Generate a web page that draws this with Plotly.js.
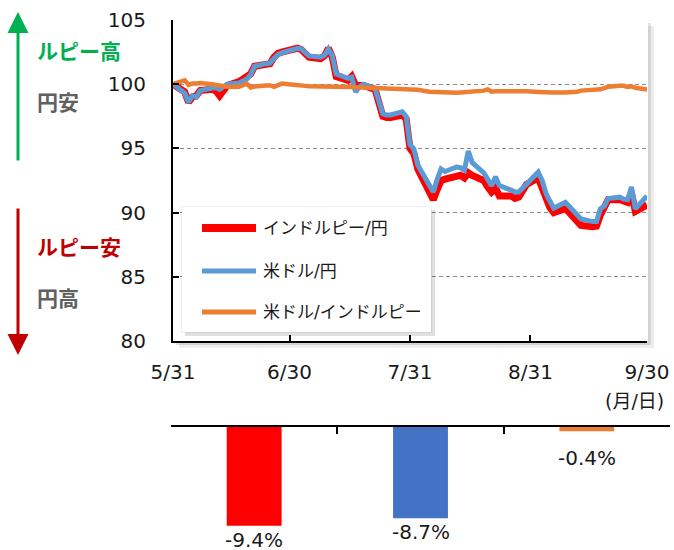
<!DOCTYPE html>
<html>
<head>
<meta charset="utf-8">
<script src="https://cdn.plot.ly/plotly-3.0.1.min.js"></script>
<style>html,body{margin:0;padding:0;background:#fff;}#chart{width:674px;height:550px;}</style>
</head>
<body>
<div id="chart"></div>
<script>
// ---- data ----
const dates = ['2024-05-31',
'2024-06-03','2024-06-04','2024-06-05','2024-06-06','2024-06-07',
'2024-06-10','2024-06-11','2024-06-12','2024-06-13','2024-06-14',
'2024-06-17','2024-06-18','2024-06-19','2024-06-20','2024-06-21',
'2024-06-24','2024-06-25','2024-06-26','2024-06-27','2024-06-28',
'2024-07-01','2024-07-02','2024-07-03','2024-07-04','2024-07-05',
'2024-07-08','2024-07-09','2024-07-10','2024-07-11','2024-07-12',
'2024-07-15','2024-07-16','2024-07-17','2024-07-18','2024-07-19',
'2024-07-22','2024-07-23','2024-07-24','2024-07-25','2024-07-26',
'2024-07-29','2024-07-30','2024-07-31','2024-08-01','2024-08-02',
'2024-08-05','2024-08-06','2024-08-07','2024-08-08','2024-08-09',
'2024-08-12','2024-08-13','2024-08-14','2024-08-15','2024-08-16',
'2024-08-19','2024-08-20','2024-08-21','2024-08-22','2024-08-23',
'2024-08-26','2024-08-27','2024-08-28','2024-08-29','2024-08-30',
'2024-09-02','2024-09-03','2024-09-04','2024-09-05','2024-09-06',
'2024-09-09','2024-09-10','2024-09-11','2024-09-12','2024-09-13',
'2024-09-16','2024-09-17','2024-09-18','2024-09-19','2024-09-20',
'2024-09-23','2024-09-24','2024-09-25','2024-09-26','2024-09-27',
'2024-09-30'];

const inrJpy = [100.0,
99.4,98.6,99.0,99.1,99.5,
99.6,99.5,99.1,99.6,99.9,
100.2,100.4,100.5,100.8,101.4,
101.5,101.6,102.1,102.4,102.5,
102.8,102.8,102.7,102.4,102.1,
102.0,102.2,102.8,102.1,100.6,
100.3,100.6,99.9,99.9,99.9,
99.6,98.7,97.5,97.4,97.4,
97.6,97.3,95.0,94.6,93.4,
91.6,91.0,91.8,92.5,92.6,
92.8,92.9,92.7,93.1,92.9,
92.5,92.0,91.6,91.9,91.3,
91.3,91.1,91.2,91.7,92.2,
92.7,91.9,91.0,90.4,90.0,
90.3,90.0,89.7,89.4,89.0,
88.9,88.95,89.8,90.4,91.0,
91.0,90.9,90.8,91.5,90.1,
90.6];

const usdJpy = [100.0,
99.3,98.6,99.1,99.0,99.5,
99.7,99.75,99.6,99.8,100.0,
100.1,100.3,100.4,100.75,101.4,
101.6,101.65,102.0,102.3,102.45,
102.75,102.8,102.75,102.5,102.2,
102.1,102.25,102.75,102.2,100.8,
100.45,100.55,99.4,99.8,100.0,
99.65,98.8,97.7,97.6,97.6,
97.85,97.5,95.3,94.95,93.7,
92.1,91.6,92.6,93.4,93.2,
93.55,93.5,93.3,94.8,93.9,
93.1,92.6,92.1,92.8,92.1,
91.75,91.6,91.6,91.9,92.3,
93.15,92.5,91.5,90.9,90.35,
90.8,90.5,90.2,89.9,89.5,
89.3,89.3,90.3,90.5,91.1,
91.2,91.05,91.0,92.0,90.3,
91.3];

const usdInr = [100.0,
100.3,99.95,100.05,100.05,100.1,
100.0,99.95,99.85,99.8,99.8,
99.8,99.95,100.05,99.75,99.82,
99.9,99.9,99.8,99.95,100.05,
99.95,99.9,99.87,99.87,99.85,
99.85,99.84,99.82,99.8,99.8,
99.8,99.78,99.76,99.75,99.73,
99.72,99.7,99.68,99.65,99.64,
99.62,99.6,99.6,99.58,99.56,
99.42,99.4,99.38,99.35,99.34,
99.34,99.36,99.38,99.42,99.45,
99.5,99.6,99.42,99.45,99.46,
99.44,99.46,99.5,99.5,99.45,
99.4,99.38,99.36,99.35,99.35,
99.35,99.35,99.36,99.42,99.5,
99.53,99.55,99.6,99.7,99.8,
99.88,99.88,99.78,99.84,99.72,
99.58];

const seriesNames = ['インドルピー/円', '米ドル/円', '米ドル/インドルピー'];
const changePct = [-9.4, -8.7, -0.4];

const xTickVals = ['2024-05-31','2024-06-30','2024-07-31','2024-08-31','2024-09-30'];
const xTickText = ['5/31','6/30','7/31','8/31','9/30'];
const yTickVals = [80, 85, 90, 95, 100, 105];

// ---- styles ----
const lineColors = ['#FF0000', '#5B9BD5', '#ED7D31'];
const barColors = ['#FF0000', '#4472C4', '#ED7D31'];
const lineWidths = [7, 5, 4.5];
const W = 674, H = 550;
const px = x => x / W;
const py = y => 1 - y / H;
const LAT = 'DejaVu Sans, Noto Sans CJK JP, sans-serif';
const JP = 'Noto Sans CJK JP, sans-serif';

const seriesData = [inrJpy, usdJpy, usdInr];
const traces = seriesData.map((vals, i) => ({
  type: 'scatter', mode: 'lines', x: dates, y: vals, name: seriesNames[i],
  xaxis: 'x', yaxis: 'y',
  line: {color: lineColors[i], width: lineWidths[i], shape: 'linear'},
  hoverinfo: 'skip'
}));
traces.push({
  type: 'bar', x: seriesNames, y: changePct, xaxis: 'x2', yaxis: 'y2',
  marker: {color: barColors}, width: 0.33, hoverinfo: 'skip'
});

const shapes = [];
// plot-area shadow + background
shapes.push({type:'rect', xref:'paper', yref:'paper', layer:'below', x0:px(179), x1:px(654), y0:py(26), y1:py(348), fillcolor:'rgba(0,0,0,0.07)', line:{width:0}});
shapes.push({type:'rect', xref:'paper', yref:'paper', layer:'below', x0:px(176), x1:px(651), y0:py(23), y1:py(345), fillcolor:'rgba(0,0,0,0.10)', line:{width:0}});
shapes.push({type:'rect', xref:'paper', yref:'paper', layer:'below', x0:px(173), x1:px(648), y0:py(20), y1:py(341), fillcolor:'#ffffff', line:{width:0}});
// legend box shadow + box
shapes.push({type:'rect', xref:'paper', yref:'paper', layer:'above', x0:px(185), x1:px(435), y0:py(210), y1:py(336), fillcolor:'rgba(0,0,0,0.12)', line:{width:0}});
shapes.push({type:'rect', xref:'paper', yref:'paper', layer:'above', x0:px(181), x1:px(432), y0:py(206), y1:py(333), fillcolor:'rgba(0,0,0,0.06)', line:{width:0}});
shapes.push({type:'rect', xref:'paper', yref:'paper', layer:'above', x0:px(182), x1:px(431), y0:py(207), y1:py(332), fillcolor:'#ffffff', line:{width:0}});
// legend samples
const legRows = [228, 271, 312];
legRows.forEach((yy, i) => {
  shapes.push({type:'line', xref:'paper', yref:'paper', layer:'above', x0:px(202), x1:px(256), y0:py(yy), y1:py(yy), line:{color:lineColors[i], width:[8,5,5][i]}});
});

const annotations = [];
legRows.forEach((yy, i) => {
  annotations.push({xref:'paper', yref:'paper', x:px(261), y:py(yy), xanchor:'left', yanchor:'middle', showarrow:false, text:seriesNames[i], font:{family:LAT, size:17, color:'#1a1a1a'}});
});
// unit label
annotations.push({xref:'paper', yref:'paper', x:px(603), y:py(401), xanchor:'left', yanchor:'middle', showarrow:false, text:'(月/日)', font:{family:LAT, size:19, color:'#1a1a1a'}});
// left arrows
annotations.push({xref:'paper', yref:'paper', x:px(18), y:py(12), ax:0, ay:150, axref:'pixel', ayref:'pixel', text:'', showarrow:true, arrowhead:2, arrowsize:1.4, arrowwidth:3, arrowcolor:'#00B050', standoff:0});
annotations.push({xref:'paper', yref:'paper', x:px(18), y:py(355), ax:0, ay:-148, axref:'pixel', ayref:'pixel', text:'', showarrow:true, arrowhead:2, arrowsize:1.4, arrowwidth:3, arrowcolor:'#C00000', standoff:0});
// left labels
const sideLabels = [
  {t:'ルピー高', y:50, c:'#00B050'},
  {t:'円安', y:101, c:'#606060'},
  {t:'ルピー安', y:246, c:'#C00000'},
  {t:'円高', y:297, c:'#606060'}
];
sideLabels.forEach(s => annotations.push({xref:'paper', yref:'paper', x:px(35), y:py(s.y), xanchor:'left', yanchor:'middle', showarrow:false, text:'<b>'+s.t+'</b>', font:{family:JP, size:21, color:s.c}}));
// bar value labels
changePct.forEach((v, i) => annotations.push({xref:'x2', yref:'y2', x:seriesNames[i], y:v, xanchor:'center', yanchor:'top', yshift:(v > -2 ? -13 : 0), showarrow:false, text:v.toFixed(1)+'%', font:{family:LAT, size:20, color:'#1a1a1a'}}));

const layout = {
  width: W, height: H, margin: {l:0, r:0, t:0, b:0},
  paper_bgcolor: '#ffffff', plot_bgcolor: 'rgba(0,0,0,0)',
  showlegend: false,
  font: {family: LAT, size: 20, color: '#1a1a1a'},
  xaxis: {
    type: 'date', domain: [px(173), px(647)], anchor: 'y',
    range: ['2024-05-31', '2024-09-30'],
    tickmode: 'array', tickvals: xTickVals, ticktext: xTickText,
    showline: true, linecolor: '#000', linewidth: 2,
    ticks: 'inside', ticklen: 6, tickwidth: 2, tickcolor: '#000',
    showgrid: false, zeroline: false, ticklabelstandoff: 12,
    tickfont: {family: LAT, size: 20, color: '#1a1a1a'}
  },
  yaxis: {
    domain: [py(341), py(20)], anchor: 'x', range: [80, 105],
    tickmode: 'array', tickvals: yTickVals,
    showline: true, linecolor: '#000', linewidth: 2,
    ticks: 'inside', ticklen: 6, tickwidth: 2, tickcolor: '#000',
    showgrid: true, gridcolor: '#8c8c8c', gridwidth: 1, griddash: '4px,3px',
    zeroline: false, ticklabelstandoff: 21,
    tickfont: {family: LAT, size: 20, color: '#1a1a1a'}
  },
  xaxis2: {
    domain: [px(171), px(670)], anchor: 'y2', side: 'top', type: 'category',
    range: [-0.5, 2.5], showline: true, linecolor: '#000', linewidth: 2,
    ticks: 'inside', tickson: 'boundaries', ticklen: 7, tickwidth: 2, tickcolor: '#000',
    showticklabels: false, showgrid: false, zeroline: false
  },
  yaxis2: {
    domain: [py(542.5), py(427)], anchor: 'x2', range: [-11, 0],
    visible: false, showgrid: false, zeroline: false
  },
  shapes: shapes,
  annotations: annotations
};

Plotly.newPlot('chart', traces, layout, {staticPlot: true, displayModeBar: false});
</script>
</body>
</html>
